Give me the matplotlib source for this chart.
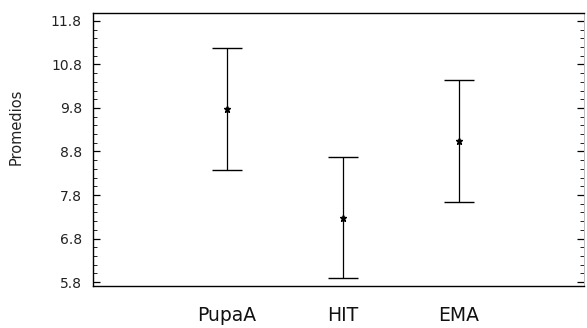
import matplotlib.pyplot as plt
from matplotlib.ticker import MultipleLocator, FormatStrFormatter

# means and half-widths of the intervals per group
groups = ["PupaA", "HIT", "EMA"]
means = [9.78, 7.28, 9.04]
half_width = [1.40, 1.39, 1.40]

yticks = [5.8, 6.8, 7.8, 8.8, 9.8, 10.8, 11.8]

fig = plt.figure(figsize=(5.87, 3.28), dpi=100)
ax = fig.add_axes([93 / 587, 1 - 286 / 328, 491 / 587, 273 / 328])

pos = [1, 2, 3]
ax.errorbar(pos, means, yerr=half_width, fmt="*", color="black", ecolor="black",
            elinewidth=0.9, capsize=11, capthick=1.0, markersize=5)

ax.set_xlim(-0.155, 4.08)
ax.set_ylim(5.71, 11.98)
ax.set_yticks(yticks)
ax.yaxis.set_major_formatter(FormatStrFormatter("%.1f"))
ax.yaxis.set_minor_locator(MultipleLocator(0.2))
ax.set_xticks([])

for x, name in zip(pos, groups):
    ax.text(x, 5.03, name, ha="center", va="center", fontsize=13.5,
            color="#111111", clip_on=False)

ax.tick_params(axis="y", which="major", direction="in", length=5, width=0.9,
               labelsize=10, labelcolor="#222222", pad=8, right=True)
ax.tick_params(axis="y", which="minor", direction="in", length=3, width=0.6, right=True)

ax.spines["left"].set_linewidth(1.0)
ax.spines["bottom"].set_linewidth(1.0)
ax.spines["top"].set_linewidth(1.0)
ax.spines["right"].set_color("#bbbbbb")
ax.spines["right"].set_linewidth(0.7)

fig.text(16 / 587, 1 - 127 / 328, "Promedios", rotation=90, ha="center", va="center",
         fontsize=10.5, color="#222222")

fig.savefig("out.png", dpi=100)
